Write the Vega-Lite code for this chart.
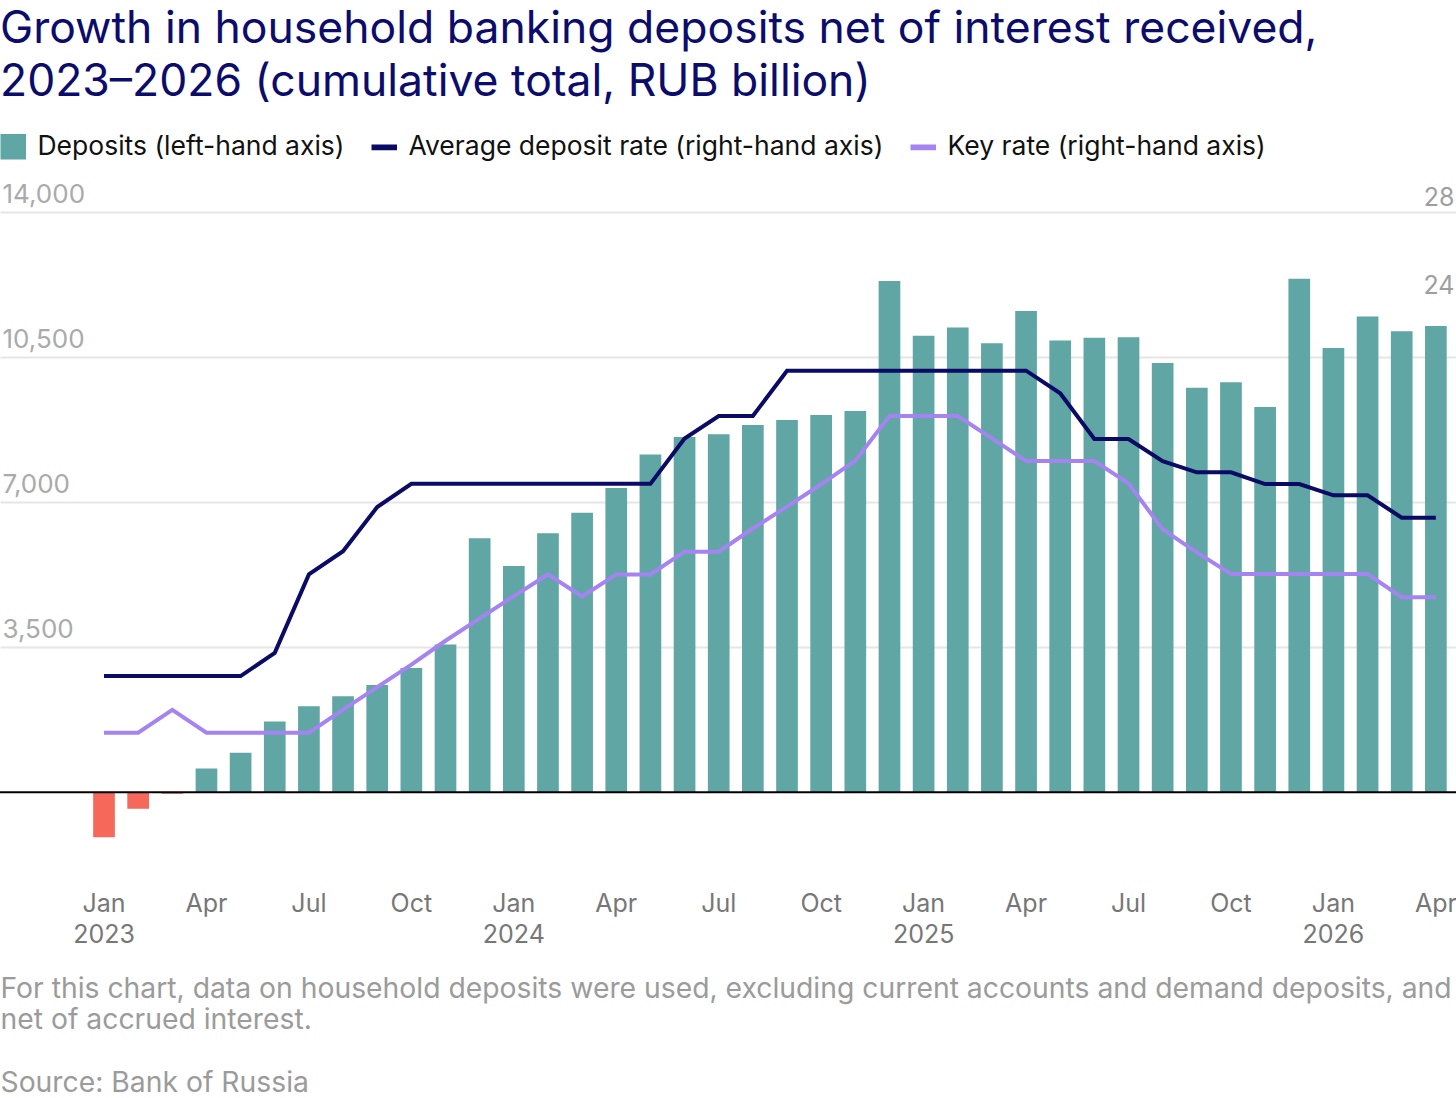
{
  "$schema": "https://vega.github.io/schema/vega-lite/v6.json",
  "width": 1456,
  "height": 663,
  "autosize": {"type": "none"},
  "padding": {"top": 212, "left": 0, "right": 0, "bottom": 223},
  "title": {
    "text": [
      "Growth in household banking deposits net of interest received,",
      "2023–2026 (cumulative total, RUB billion)"
    ],
    "anchor": "start",
    "frame": "group",
    "font": "Inter",
    "fontSize": 44.5,
    "fontWeight": "normal",
    "color": "#0c0c6c",
    "lineHeight": 53,
    "baseline": "alphabetic",
    "offset": -7
  },
  "data": {
    "values": [
      {"month": "2023-01", "deposits": -1090, "avg_rate": 7.0, "key_rate": 4.44},
      {"month": "2023-02", "deposits": -400, "avg_rate": 7.0, "key_rate": 4.44},
      {"month": "2023-03", "deposits": -40, "avg_rate": 7.0, "key_rate": 5.47},
      {"month": "2023-04", "deposits": 570, "avg_rate": 7.0, "key_rate": 4.44},
      {"month": "2023-05", "deposits": 950, "avg_rate": 7.0, "key_rate": 4.44},
      {"month": "2023-06", "deposits": 1705, "avg_rate": 8.05, "key_rate": 4.44},
      {"month": "2023-07", "deposits": 2070, "avg_rate": 11.6, "key_rate": 4.44},
      {"month": "2023-08", "deposits": 2315, "avg_rate": 12.65, "key_rate": 5.48},
      {"month": "2023-09", "deposits": 2585, "avg_rate": 14.65, "key_rate": 6.5},
      {"month": "2023-10", "deposits": 2995, "avg_rate": 15.7, "key_rate": 7.52},
      {"month": "2023-11", "deposits": 3565, "avg_rate": 15.7, "key_rate": 8.6},
      {"month": "2023-12", "deposits": 6125, "avg_rate": 15.7, "key_rate": 9.61},
      {"month": "2024-01", "deposits": 5455, "avg_rate": 15.7, "key_rate": 10.62},
      {"month": "2024-02", "deposits": 6245, "avg_rate": 15.7, "key_rate": 11.6},
      {"month": "2024-03", "deposits": 6740, "avg_rate": 15.7, "key_rate": 10.6},
      {"month": "2024-04", "deposits": 7340, "avg_rate": 15.7, "key_rate": 11.6},
      {"month": "2024-05", "deposits": 8150, "avg_rate": 15.7, "key_rate": 11.6},
      {"month": "2024-06", "deposits": 8570, "avg_rate": 17.75, "key_rate": 12.63},
      {"month": "2024-07", "deposits": 8635, "avg_rate": 18.77, "key_rate": 12.63},
      {"month": "2024-08", "deposits": 8860, "avg_rate": 18.77, "key_rate": 13.68},
      {"month": "2024-09", "deposits": 8980, "avg_rate": 20.82, "key_rate": 14.67},
      {"month": "2024-10", "deposits": 9100, "avg_rate": 20.82, "key_rate": 15.68},
      {"month": "2024-11", "deposits": 9195, "avg_rate": 20.82, "key_rate": 16.75},
      {"month": "2024-12", "deposits": 12335, "avg_rate": 20.82, "key_rate": 18.77},
      {"month": "2025-01", "deposits": 11015, "avg_rate": 20.82, "key_rate": 18.77},
      {"month": "2025-02", "deposits": 11215, "avg_rate": 20.82, "key_rate": 18.77},
      {"month": "2025-03", "deposits": 10835, "avg_rate": 20.82, "key_rate": 17.76},
      {"month": "2025-04", "deposits": 11610, "avg_rate": 20.82, "key_rate": 16.73},
      {"month": "2025-05", "deposits": 10900, "avg_rate": 19.8, "key_rate": 16.73},
      {"month": "2025-06", "deposits": 10965, "avg_rate": 17.73, "key_rate": 16.73},
      {"month": "2025-07", "deposits": 10980, "avg_rate": 17.73, "key_rate": 15.72},
      {"month": "2025-08", "deposits": 10355, "avg_rate": 16.73, "key_rate": 13.64},
      {"month": "2025-09", "deposits": 9760, "avg_rate": 16.22, "key_rate": 12.6},
      {"month": "2025-10", "deposits": 9890, "avg_rate": 16.22, "key_rate": 11.62},
      {"month": "2025-11", "deposits": 9295, "avg_rate": 15.69, "key_rate": 11.62},
      {"month": "2025-12", "deposits": 12390, "avg_rate": 15.69, "key_rate": 11.62},
      {"month": "2026-01", "deposits": 10715, "avg_rate": 15.18, "key_rate": 11.62},
      {"month": "2026-02", "deposits": 11480, "avg_rate": 15.18, "key_rate": 11.62},
      {"month": "2026-03", "deposits": 11120, "avg_rate": 14.17, "key_rate": 10.57},
      {"month": "2026-04", "deposits": 11250, "avg_rate": 14.17, "key_rate": 10.57}
    ]
  },
  "layer": [
    {
      "layer": [
        {
          "mark": {"type": "bar"},
          "encoding": {
            "x": {
              "field": "month",
              "type": "ordinal",
              "scale": {
                "type": "band",
                "domain": ["2022-11", "2022-12", "2023-01", "2023-02", "2023-03", "2023-04", "2023-05", "2023-06", "2023-07", "2023-08", "2023-09", "2023-10", "2023-11", "2023-12", "2024-01", "2024-02", "2024-03", "2024-04", "2024-05", "2024-06", "2024-07", "2024-08", "2024-09", "2024-10", "2024-11", "2024-12", "2025-01", "2025-02", "2025-03", "2025-04", "2025-05", "2025-06", "2025-07", "2025-08", "2025-09", "2025-10", "2025-11", "2025-12", "2026-01", "2026-02", "2026-03", "2026-04"],
                "paddingInner": 0.365,
                "paddingOuter": 0.5,
                "align": 0.728
              },
              "axis": {
                "values": ["2023-01", "2023-04", "2023-07", "2023-10", "2024-01", "2024-04", "2024-07", "2024-10", "2025-01", "2025-04", "2025-07", "2025-10", "2026-01", "2026-04"],
                "labelExpr": "slice(datum.value, 5) == '01' ? ['Jan', slice(datum.value, 0, 4)] : slice(datum.value, 5) == '04' ? 'Apr' : slice(datum.value, 5) == '07' ? 'Jul' : 'Oct'",
                "labelAngle": 0,
                "labelAlign": "center",
                "labelBaseline": "top",
                "labelPadding": 16,
                "labelFont": "Inter",
                "labelFontSize": 25,
                "labelColor": "#777777",
                "labelLineHeight": 31,
                "labelOverlap": false,
                "labelBound": false,
                "title": [
                  "For this chart, data on household deposits were used, excluding current accounts and demand deposits, and",
                  "net of accrued interest.",
                  "\u2800",
                  "Source: Bank of Russia"
                ],
                "titleAnchor": "start",
                "titleAlign": "left",
                "titleBaseline": "top",
                "titlePadding": 28,
                "titleFont": "Inter",
                "titleFontSize": 28.3,
                "titleFontWeight": "normal",
                "titleColor": "#9b9b9b",
                "titleLineHeight": 31.5
              }
            },
            "y": {
              "field": "deposits",
              "type": "quantitative",
              "scale": {"domain": [-2000, 14000], "nice": false, "zero": false},
              "axis": {
                "orient": "left",
                "values": [3500, 7000, 10500, 14000],
                "format": ",.0f",
                "title": null,
                "labelAlign": "left",
                "labelBaseline": "alphabetic",
                "labelPadding": -2,
                "labelOffset": -10,
                "labelFlush": false,
                "labelFont": "Inter",
                "labelFontSize": 26,
                "labelColor": "#aaaaaa",
                "grid": true,
                "gridColor": "#e6e6e6",
                "gridWidth": 2
              }
            },
            "color": {
              "datum": "Deposits (left-hand axis)",
              "type": "nominal",
              "condition": {"test": "datum.deposits < 0", "value": "#f5685a"}
            }
          }
        },
        {
          "data": {"values": [{}]},
          "mark": {"type": "rule", "color": "#000000", "strokeWidth": 2},
          "encoding": {"y": {"datum": 0, "type": "quantitative"}}
        }
      ]
    },
    {
      "transform": [{"fold": ["avg_rate", "key_rate"], "as": ["series", "rate"]}],
      "mark": {"type": "line", "strokeWidth": 4},
      "encoding": {
        "x": {"field": "month", "type": "ordinal"},
        "y": {
          "field": "rate",
          "type": "quantitative",
          "scale": {"domain": [-2, 28], "nice": false, "zero": false},
          "axis": {
            "orient": "right",
            "values": [24, 28],
            "title": null,
            "labelAlign": "right",
            "labelBaseline": "alphabetic",
            "labelPadding": -2,
            "labelOffset": -7,
            "labelFlush": false,
            "labelFont": "Inter",
            "labelFontSize": 25,
            "labelColor": "#9e9e9e",
            "grid": false,
            "zindex": 0
          }
        },
        "color": {
          "field": "series",
          "type": "nominal",
          "scale": {
            "domain": ["Deposits (left-hand axis)", "avg_rate", "key_rate"],
            "range": ["#5fa6a4", "#0b0b66", "#a584f2"]
          },
          "legend": {
            "orient": "none",
            "legendX": 0,
            "legendY": -79,
            "direction": "horizontal",
            "title": null,
            "padding": 0,
            "labelFont": "Inter",
            "labelFontSize": 26.5,
            "labelColor": "#111111",
            "labelLimit": 0,
            "labelOffset": 11,
            "columnPadding": 24,
            "symbolSize": 576,
            "labelExpr": "datum.label == 'avg_rate' ? 'Average deposit rate (right-hand axis)' : datum.label == 'key_rate' ? 'Key rate (right-hand axis)' : datum.label",
            "encode": {
              "symbols": {
                "update": {
                  "shape": {"signal": "datum.value == 'Deposits (left-hand axis)' ? 'square' : 'M-1,-0.17H1V0.17H-1Z'"},
                  "fill": {"scale": "color", "field": "value"},
                  "stroke": {"value": "transparent"},
                  "opacity": {"value": 1}
                }
              }
            }
          }
        }
      }
    }
  ],
  "resolve": {"scale": {"y": "independent"}},
  "config": {
    "view": {"stroke": null},
    "font": "Inter",
    "axis": {"domain": false, "ticks": false, "tickSize": 0}
  }
}
